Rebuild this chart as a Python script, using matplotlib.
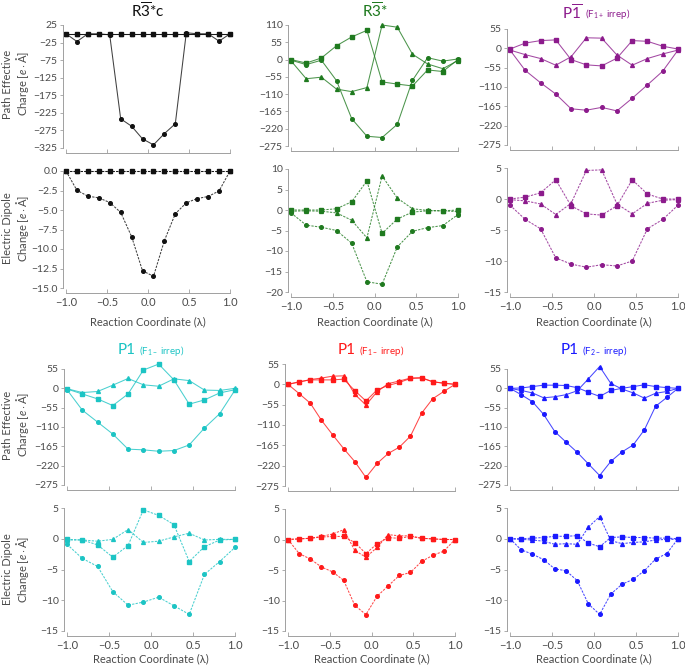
import numpy as np
import matplotlib
matplotlib.use('Agg')
import matplotlib.pyplot as plt

plt.rcParams['font.family'] = ['Lato', 'DejaVu Sans']
plt.rcParams['mathtext.fontset'] = 'custom'
plt.rcParams['mathtext.rm'] = 'Lato'
plt.rcParams['mathtext.it'] = 'Lato:italic'

# reaction coordinate grids (16 and 12 images)
x16 = [-1.0, -0.867, -0.733, -0.6, -0.467, -0.333, -0.2, -0.067,
       0.067, 0.2, 0.333, 0.467, 0.6, 0.733, 0.867, 1.0]
x12 = [-1.0, -0.818, -0.636, -0.455, -0.273, -0.091,
       0.091, 0.273, 0.455, 0.636, 0.818, 1.0]

# R-3*c
r3c_pec_sq = [0, 0, 0, 0, 0, 0, 0, 0, 0, 0, 0, 0, 0, 0, 0, 0]
r3c_pec_ci = [0, -22, 0, 0, -3, -242, -263, -299, -316, -284, -256, 3, 0, 0, -21, 0]
r3c_pec_tr = [0, 0, 0, 0, 0, 0, 0, 0, 0, 0, 0, 0, 0, 0, 0, 0]
r3c_dip_sq = [0, 0, 0, 0, 0, 0, 0, 0, 0, 0, 0, 0, 0, 0, 0, 0]
r3c_dip_ci = [0, -2.47, -3.23, -3.44, -4.04, -5.31, -8.41, -12.79,
              -13.5, -8.92, -5.48, -4.08, -3.53, -3.27, -2.55, 0]
r3c_dip_tr = [0, 0, 0, 0, 0, 0, 0, 0, 0, 0, 0, 0, 0, 0, 0, 0]

# R-3*
r3_pec_sq = [0, -11, 5, 44, 72, 93, -71, -78, -84, -33, -38, 0]
r3_pec_ci = [-2, -16, -2, -67, -188, -244, -248, -206, -66, 6, -5, 2]
r3_pec_tr = [-4, -61, -56, -94, -102, -89, 110, 103, 17, -14, -29, -3]
r3_dip_sq = [0, 0, 0, 0.3, 2.0, 7.1, -5.7, -2.2, -0.5, -0.2, -0.2, 0]
r3_dip_ci = [-0.7, -3.7, -4.2, -5.0, -8.1, -17.5, -18.1, -9.0, -5.2, -4.3, -3.8, -1.1]
r3_dip_tr = [-0.3, -0.2, -0.3, -0.7, -2.5, -6.8, 8.3, 2.9, 0.3, -0.1, -0.2, -0.4]

# P-1 (F1+ irrep)
p1b_pec_sq = [-2, 15, 22, 24, -32, -47, -50, -28, 22, 20, 6, -2]
p1b_pec_ci = [-5, -63, -98, -130, -172, -176, -168, -178, -142, -104, -65, -5]
p1b_pec_tr = [-5, -18, -29, -48, -24, 30, 29, -19, -48, -29, -16, -5]
p1b_dip_sq = [0, 0.3, 1.0, 3.1, -1.1, -2.4, -2.6, -1.1, 3.1, 0.8, 0, 0]
p1b_dip_ci = [-1.0, -3.3, -4.8, -9.5, -10.5, -11.0, -10.6, -10.8, -10.0, -4.8, -3.3, -1.0]
p1b_dip_tr = [-0.1, -0.3, -0.8, -2.5, -0.7, 4.6, 4.7, -0.8, -2.4, -0.7, -0.2, -0.1]

# P1 (F1- irrep)
p1a_pec_sq = [-2, -16, -30, -49, -16, 52, 69, 24, -45, -33, -13, -4]
p1a_pec_ci = [-4, -62, -96, -130, -173, -175, -179, -177, -161, -113, -72, -5]
p1a_pec_tr = [-1, -12, -9, 9, 28, 10, 6, 27, 22, -5, -6, 0]
p1a_dip_sq = [-0.1, -0.2, -1.0, -3.0, -1.1, 4.7, 3.8, 2.3, -3.7, -1.3, -0.2, -0.1]
p1a_dip_ci = [-0.9, -3.2, -4.5, -8.6, -10.8, -10.3, -9.5, -10.9, -12.3, -5.8, -3.7, -1.4]
p1a_dip_tr = [-0.2, -0.2, -0.4, -0.1, 1.5, -0.6, -0.4, 0.3, 0.9, -0.2, -0.1, -0.1]

# P1 (F1 irrep)
p1r_pec_sq = [0, 7, 12, 12, 12, 14, -17, -45, -15, -3, 5, 16, 17, 7, 3, 0]
p1r_pec_ci = [0, -25, -51, -97, -136, -174, -209, -252, -214, -187, -170, -140, -78, -39, -19, 0]
p1r_pec_tr = [0, 6, 13, 17, 22, 23, -27, -56, -20, 2, 9, 17, 18, 7, 3, 0]
p1r_dip_sq = [0, 0.1, 0.2, 0.4, 0.5, 0.5, -0.5, -2.3, -0.7, 0.3, 0.2, 0.5, 0.2, 0.1, 0, 0]
p1r_dip_ci = [0, -2.3, -3.2, -4.5, -5.3, -6.7, -10.8, -12.3, -9.3, -7.6, -5.9, -5.4, -3.6, -2.6, -1.9, 0]
p1r_dip_tr = [0, 0.1, 0.2, 0.5, 0.9, 1.6, -1.8, -2.9, -1.3, 0.8, 0.6, 0.6, 0.2, 0.1, 0, 0]

# P1 (F2 irrep)
p1f_pec_sq = [0, 1, 5, 9, 9, 8, 2, -11, -23, -6, 0, 5, 10, 5, 2, 0]
p1f_pec_ci = [0, -18, -38, -74, -123, -153, -182, -215, -248, -208, -181, -161, -118, -51, -26, 0]
p1f_pec_tr = [0, -6, -13, -27, -24, -18, -7, 27, 62, 14, -2, -13, -28, -14, -9, 0]
p1f_dip_sq = [0, 0, 0.1, 0.2, 0.4, 0.4, 0.5, -0.7, -1.3, 0.2, 0.3, 0.2, 0.2, 0.1, 0.1, 0]
p1f_dip_ci = [0, -1.8, -2.5, -3.4, -4.9, -5.2, -6.8, -10.6, -12.3, -9.0, -7.4, -6.6, -5.2, -3.3, -2.4, 0]
p1f_dip_tr = [0, -0.1, -0.2, -0.4, -0.9, -0.8, -0.9, 1.9, 3.6, -0.3, -0.8, -0.6, -0.5, -0.2, -0.1, -0.1]

W, H = 685, 665
fig = plt.figure(figsize=(W / 100, H / 100), dpi=100)
GREY = '#4a4a4a'


def make_ax(x0, x1, ytop, ybot, yticks, ylab_fmt, show_x):
    '''axes placed by pixel box, data range = tick range'''
    ax = fig.add_axes([x0 / W, 1 - ybot / H, (x1 - x0) / W, (ybot - ytop) / H])
    ax.set_xlim(-1, 1)
    ax.set_ylim(yticks[0], yticks[-1])
    ax.set_yticks(yticks)
    ax.set_yticklabels([ylab_fmt.format(v).replace('-', '\u2212') for v in yticks])
    ax.set_xticks([-1, -0.5, 0, 0.5, 1])
    ax.set_xticklabels(['\u22121.0', '\u22120.5', '0.0', '0.5', '1.0'])
    for s in ['top', 'right']:
        ax.spines[s].set_visible(False)
    ax.spines['bottom'].set_position(('outward', 3.5))
    ax.spines['left'].set_position(('outward', 2.5))
    for s in ['bottom', 'left']:
        ax.spines[s].set_color('#a0a0a0')
        ax.spines[s].set_linewidth(0.7)
    ax.tick_params(axis='x', direction='in', length=3, width=0.6, color='#a0a0a0',
                   labelsize=8, labelcolor=GREY, pad=3, labelbottom=show_x)
    ax.tick_params(axis='y', direction='out', length=2, width=0.6, color='#a0a0a0',
                   labelsize=7.5, labelcolor=GREY, pad=1.5)
    ax.patch.set_alpha(0)
    return ax


def draw(ax, x, sq, ci, tr, color, ls):
    for vals, m, ms in [(ci, 'o', 2.6), (tr, '^', 2.8), (sq, 's', 2.8)]:
        ax.plot(x, vals, ls=ls, lw=0.75, color=color, alpha=0.8, clip_on=False,
                dashes=(2.2, 1.2) if ls == '--' else (None, None))
        ax.plot(x, vals, ls='none', marker=m, ms=ms, color=color, mec=color, clip_on=False)


def title(cx, cy, main, sub, color):
    r = fig.canvas.get_renderer()
    t1 = fig.text(0, 1 - cy / H, main, fontsize=11, color=color, va='center')
    w1 = t1.get_window_extent(r).width
    w2 = 0
    t2 = None
    if sub:
        t2 = fig.text(0, 1 - (cy + 1) / H, sub, fontsize=7, color=color, va='center')
        w2 = t2.get_window_extent(r).width + 3
    left = cx - (w1 + w2) / 2
    t1.set_x(left / W)
    if t2 is not None:
        t2.set_x((left + w1 + 3) / W)


pec_a = np.arange(-325, 26, 50)
pec_b = np.arange(-275, 111, 55)
pec_c = np.arange(-275, 56, 55)

# top half
ax = make_ax(66, 230, 25, 148, pec_a, '{:.0f}', False)
draw(ax, x16, r3c_pec_sq, r3c_pec_ci, r3c_pec_tr, '#111111', '-')
ax = make_ax(66, 230, 171, 288, np.arange(-15, 0.1, 2.5), '{:.1f}', True)
draw(ax, x16, r3c_dip_sq, r3c_dip_ci, r3c_dip_tr, '#111111', '--')

ax = make_ax(291, 458, 25, 146, pec_b, '{:.0f}', False)
draw(ax, x12, r3_pec_sq, r3_pec_ci, r3_pec_tr, '#1f7a1f', '-')
ax = make_ax(291, 458, 169, 292, np.arange(-20, 11, 5), '{:.0f}', True)
draw(ax, x12, r3_dip_sq, r3_dip_ci, r3_dip_tr, '#1f7a1f', '--')

ax = make_ax(510, 678, 29, 145, pec_c, '{:.0f}', False)
draw(ax, x12, p1b_pec_sq, p1b_pec_ci, p1b_pec_tr, '#8c1b8c', '-')
ax = make_ax(510, 678, 168, 292, np.arange(-15, 6, 5), '{:.0f}', True)
draw(ax, x12, p1b_dip_sq, p1b_dip_ci, p1b_dip_tr, '#8c1b8c', '--')

# bottom half
ax = make_ax(67, 235, 369, 485, pec_c, '{:.0f}', False)
draw(ax, x12, p1a_pec_sq, p1a_pec_ci, p1a_pec_tr, '#1cc4c4', '-')
ax = make_ax(67, 235, 508, 631, np.arange(-15, 6, 5), '{:.0f}', True)
draw(ax, x12, p1a_dip_sq, p1a_dip_ci, p1a_dip_tr, '#1cc4c4', '--')

ax = make_ax(288, 455, 364, 486, pec_c, '{:.0f}', False)
draw(ax, x16, p1r_pec_sq, p1r_pec_ci, p1r_pec_tr, '#ff1a1a', '-')
ax = make_ax(288, 455, 509, 631, np.arange(-15, 6, 5), '{:.0f}', True)
draw(ax, x16, p1r_dip_sq, p1r_dip_ci, p1r_dip_tr, '#ff1a1a', '--')

ax = make_ax(510, 678, 369, 485, pec_c, '{:.0f}', False)
draw(ax, x16, p1f_pec_sq, p1f_pec_ci, p1f_pec_tr, '#1a1aff', '-')
ax = make_ax(510, 678, 508, 631, np.arange(-15, 6, 5), '{:.0f}', True)
draw(ax, x16, p1f_dip_sq, p1f_dip_ci, p1f_dip_tr, '#1a1aff', '--')

# titles
title(148, 11, r'R$\overline{3}$*c', None, '#111111')
title(375, 11, r'R$\overline{3}$*', None, '#1f7a1f')
title(596, 13, r'P$\overline{1}$', r'(F$_{1+}$ irrep)', '#8c1b8c')
title(151, 350, 'P1', r'(F$_{1-}$ irrep)', '#1cc4c4')
title(371, 350, 'P1', r'(F$_{1-}$ irrep)', '#ff1a1a')
title(594, 350, 'P1', r'(F$_{2-}$ irrep)', '#1a1aff')

# y labels (left column only)
for yc, txt in [(84, 'Path Effective\nCharge [$e\\cdot$Å]'),
                (228, 'Electric Dipole\nChange [$e\\cdot$Å]'),
                (425, 'Path Effective\nCharge [$e\\cdot$Å]'),
                (569, 'Electric Dipole\nChange [$e\\cdot$Å]')]:
    fig.text(16.5 / W, 1 - yc / H, txt, rotation=90, ha='center', va='center',
             fontsize=8, color=GREY, multialignment='center', linespacing=1.1)

# x labels
for (x0, x1), yc in [((66, 230), 322), ((291, 458), 322), ((510, 678), 322),
                     ((67, 235), 659), ((288, 455), 659), ((510, 678), 659)]:
    fig.text((x0 + x1) / 2 / W, 1 - yc / H, 'Reaction Coordinate (\u03bb)',
             ha='center', va='center', fontsize=8, color=GREY)

fig.savefig('out.png', dpi=100)
